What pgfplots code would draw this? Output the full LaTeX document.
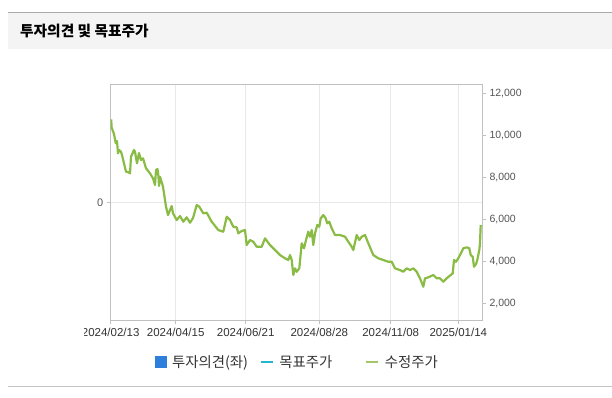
\documentclass[border=0pt]{standalone}
\usepackage{pgfplots}
\pgfplotsset{compat=1.18}
\usepackage{fontspec}
\setmainfont{Liberation Sans}
\newfontfamily\kr{Noto Sans CJK KR}
\definecolor{hdrbg}{HTML}{F4F4F4}
\definecolor{hdrline}{HTML}{AAAAAA}
\definecolor{botline}{HTML}{C4C4C4}
\definecolor{axiscol}{HTML}{C0C0C0}
\definecolor{gridc}{HTML}{E8E8E8}
\definecolor{tickc}{HTML}{555555}
\definecolor{xtickc}{HTML}{333333}
\definecolor{linegreen}{HTML}{8ABC45}
\definecolor{leggreen}{HTML}{A3C66C}
\definecolor{sqblue}{HTML}{2D7FDB}
\definecolor{dashcyan}{HTML}{25B5CC}
\definecolor{legtext}{HTML}{333333}

\pgfplotstableread{
x y
0.6 10778
0.8 10410
1.8 10268
3.3 10077
5 9647
6.3 9742
7.3 9155
8.3 9313
10.3 9232
11.3 9074
13.3 8678
15.3 8277
17.3 8263
19.3 8201
20.3 8993
23.3 9313
24.3 9232
26.3 8678
28.3 9170
30.3 8836
32.3 8917
35.3 8439
39.3 8201
42.3 7962
44.3 7642
45.3 8358
46.8 8406
47.8 8038
48.3 7594
49.3 8038
52.3 7561
55.3 6607
57.3 6210
61 6640
62.3 6291
66 5972
69.3 6163
72.6 5891
76 6100
79.3 5843
82.3 6067
86 6688
88.6 6607
92.6 6291
96 6320
101 5891
107.6 5494
112.6 5413
116 6129
119.3 5972
122.6 5652
126 5623
127.6 5337
131 5447
134.3 5494
136 4778
139.3 5017
142.6 4936
146 4697
151 4697
154.3 5098
159.3 4778
164.3 4540
169.3 4301
174.3 4144
177.6 4063
179.3 4301
181 4063
182.6 3347
184.3 3666
186 3504
188.6 3666
191 4860
193.3 4621
195.3 5017
197.6 5413
199.3 5175
201 5494
202.6 4778
204.3 5337
206.6 5733
208.6 5652
210 6053
212.6 6210
215 6053
216.6 5814
218.6 5891
221 5575
224.3 5256
229.3 5256
234.3 5175
237.6 4936
241 4697
242.6 4540
246 5256
248.6 5017
251 5175
254.3 5256
257.6 4860
262.6 4301
267.6 4144
272.6 4063
277.6 3981
281 3981
284.3 3666
289.3 3585
292.6 3504
296 3666
299.3 3585
302.6 3666
306 3504
309.3 3189
312.6 2788
314.3 3189
317.6 3237
322.6 3347
326 3189
329.3 3189
332.6 3027
336 3189
340 3347
342 3428
343.3 4063
345.3 3981
347.6 4144
351 4459
352.6 4621
356 4669
358.6 4621
360 4301
362 4220
363.3 3743
365.3 3871
366.6 4063
368.6 4540
369.3 4860
370 5733
}\pricedata

\begin{document}
\begin{tikzpicture}
\begin{scope}[x=1pt,y=-1pt]
\path[use as bounding box] (0,0) rectangle (612,398);
\fill[hdrbg] (8,12.5) rectangle (612,49);
\draw[hdrline, line width=1pt] (8,12.5) -- (612,12.5);
\node[anchor=base west, inner sep=0pt, text=black, font=\kr\bfseries\fontsize{14.7}{16}\selectfont] at (20,36.5) {투자의견 및 목표주가};
\draw[botline, line width=1pt] (8,386.5) -- (612,386.5);
\end{scope}
\clip (84.5pt,-60pt) rectangle (612pt,-382pt);
\begin{axis}[
  at={(110.7pt,-320pt)}, anchor=south west,
  width=371.3pt, height=235.3pt, scale only axis,
  xmin=0, xmax=371.3, ymin=-1, ymax=1,
  xtick={0,65,135,208.6,280,347.6},
  xticklabels={2024/02/13,2024/04/15,2024/06/21,2024/08/28,2024/11/08,2025/01/14},
  ytick={0},
  xtick pos=bottom, ytick pos=left,
  grid=major, major grid style={draw=gridc, line width=0.7pt},
  axis line style={draw=axiscol, line width=0.8pt},
  tick style={draw=axiscol, line width=0.7pt}, tick align=outside,
  major tick length=4pt,
  x tick label style={font=\fontsize{11.5}{13}\selectfont, text=xtickc, yshift=-1pt},
  y tick label style={font=\fontsize{11}{13}\selectfont, text=tickc},
  /pgf/number format/assume math mode=true,
]
\end{axis}
\begin{axis}[
  at={(110.7pt,-320pt)}, anchor=south west,
  width=371.3pt, height=235.3pt, scale only axis,
  xmin=0, xmax=371.3, ymin=1200, ymax=12430,
  hide x axis,
  axis y line*=right,
  ytick={2000,4000,6000,8000,10000,12000},
  scaled y ticks=false,
  y tick label style={font=\fontsize{10.5}{12}\selectfont, text=tickc, /pgf/number format/.cd, fixed, 1000 sep={,}, assume math mode=true},
  axis line style={draw=axiscol, line width=0.8pt},
  tick style={draw=axiscol, line width=0.7pt}, tick align=outside,
  major tick length=4pt,
  legend columns=3,
  legend style={draw=none, fill=none, at={(0.111,-0.178)}, anchor=west,
    font=\kr\fontsize{14.4}{16}\selectfont, text=legtext,
    /tikz/every even column/.append style={column sep=4pt},
    /tikz/every odd column/.append style={column sep=3.5pt}},
]
\addlegendimage{legend image code/.code={\fill[sqblue] (0pt,-5.25pt) rectangle (11pt,5.25pt);}}
\addlegendentry{투자의견(좌)\rule{6pt}{0pt}}
\addlegendimage{legend image code/.code={\draw[dashcyan, line width=2pt] (0pt,0pt) -- (12pt,0pt);}}
\addlegendentry{목표주가\rule{27pt}{0pt}}
\addplot[linegreen, line width=2.2pt, line join=round, mark=none,
  legend image code/.code={\draw[leggreen, line width=2pt] (0pt,0pt) -- (12pt,0pt);}] table[x=x, y=y] {\pricedata};
\addlegendentry{수정주가}
\end{axis}
\end{tikzpicture}
\end{document}
